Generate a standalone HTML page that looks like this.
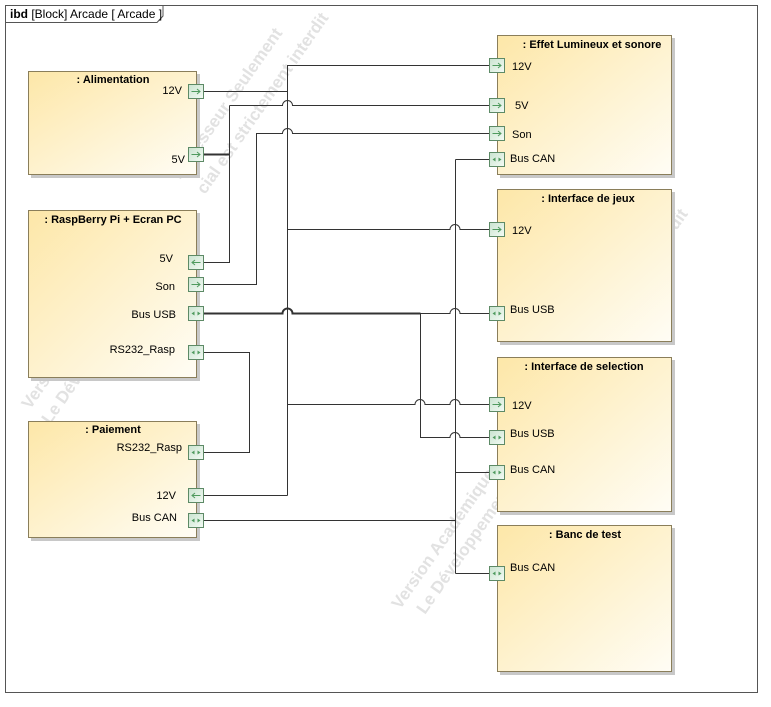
<!DOCTYPE html>
<html><head><meta charset="utf-8"><style>
html,body{margin:0;padding:0;background:#fff;}
svg{display:block;font-family:"Liberation Sans",sans-serif;}
</style></head><body>
<svg width="771" height="707" viewBox="0 0 771 707" xmlns="http://www.w3.org/2000/svg">
<defs>
<linearGradient id="g" x1="0" y1="0" x2="1" y2="1">
<stop offset="0" stop-color="#fde7a8"/><stop offset="1" stop-color="#fffdf5"/>
</linearGradient>
<linearGradient id="pg" x1="0" y1="0" x2="1" y2="1">
<stop offset="0" stop-color="#c9e3cf"/><stop offset="1" stop-color="#f4fbf5"/>
</linearGradient>
<g id="ar"><path d="M-4.5 0 H4 M1 -2.5 L4 0 L1 2.5" fill="none" stroke="#4f9a5e" stroke-width="1"/></g>
<g id="al"><path d="M4.5 0 H-4 M-1 -2.5 L-4 0 L-1 2.5" fill="none" stroke="#4f9a5e" stroke-width="1"/></g>
<g id="ab"><path d="M-4.5 0 L-1.5 -2 V2 Z M4.5 0 L1.5 -2 V2 Z" fill="#4f9a5e" stroke="none"/></g>
</defs>
<rect width="771" height="707" fill="#fff"/>
<g fill="#e2e2e2" font-size="17" font-weight="bold">
<text transform="translate(180,180) rotate(-55)">Professeur Seulement</text>
<text transform="translate(205,195) rotate(-55)">cial est strictement interdit</text>
<text transform="translate(30,410) rotate(-55)">Version Académique</text>
<text transform="translate(50,425) rotate(-55)">Le Développement commercial</text>
<text transform="translate(400,610) rotate(-55)">Version Académique</text>
<text transform="translate(425,615) rotate(-55)">Le Développement commercial est</text>
<text transform="translate(600,340) rotate(-55)">strictement interdit</text>
</g>
<rect x="5.5" y="5.5" width="752" height="687" fill="none" stroke="#555"/>
<path d="M5.5 22.5 H157 L163 16 V5.5" fill="none" stroke="#555"/>
<text x="10" y="18" font-size="12"><tspan font-weight="bold">ibd</tspan> [Block] Arcade [ Arcade ]</text>

<g stroke="#8a7e5a" stroke-width="1">
<rect x="31" y="74" width="169" height="104" fill="#c8c8c8" stroke="none"/>
<rect x="28.5" y="71.5" width="168" height="103" fill="url(#g)"/>
<rect x="31" y="213" width="169" height="168" fill="#c8c8c8" stroke="none"/>
<rect x="28.5" y="210.5" width="168" height="167" fill="url(#g)"/>
<rect x="31" y="424" width="169" height="117" fill="#c8c8c8" stroke="none"/>
<rect x="28.5" y="421.5" width="168" height="116" fill="url(#g)"/>
<rect x="500" y="38" width="175" height="140" fill="#c8c8c8" stroke="none"/>
<rect x="497.5" y="35.5" width="174" height="139" fill="url(#g)"/>
<rect x="500" y="192" width="175" height="153" fill="#c8c8c8" stroke="none"/>
<rect x="497.5" y="189.5" width="174" height="152" fill="url(#g)"/>
<rect x="500" y="360" width="175" height="155" fill="#c8c8c8" stroke="none"/>
<rect x="497.5" y="357.5" width="174" height="154" fill="url(#g)"/>
<rect x="500" y="528" width="175" height="147" fill="#c8c8c8" stroke="none"/>
<rect x="497.5" y="525.5" width="174" height="146" fill="url(#g)"/>
</g>
<g font-size="11" font-weight="bold" text-anchor="middle">
<text x="113" y="83">: Alimentation</text>
<text x="113" y="223">: RaspBerry Pi + Ecran PC</text>
<text x="113" y="433">: Paiement</text>
<text x="592" y="48">: Effet Lumineux et sonore</text>
<text x="588" y="202">: Interface de jeux</text>
<text x="584" y="370">: Interface de selection</text>
<text x="585" y="538">: Banc de test</text>
</g>

<g fill="none" stroke="#333" stroke-width="1">
<path d="M287.5 65 V495.5"/>
<path d="M204 91.5 H287.5"/>
<path d="M287.5 65.5 H489"/>
<path d="M287.5 229.5 H450 a5 5 0 0 1 10 0 H489"/>
<path d="M287.5 404.5 H415 a5 5 0 0 1 10 0 H450 a5 5 0 0 1 10 0 H489"/>
<path d="M204 495.5 H287.5"/>
<path d="M204 154.5 H229.5" stroke-width="2"/>
<path d="M229.5 105.5 V262.5 H204"/>
<path d="M229.5 105.5 H282.5 a5 5 0 0 1 10 0 H489"/>
<path d="M204 284.5 H256.5 V133.5 H282.5 a5 5 0 0 1 10 0 H489"/>
<path d="M455.5 159.5 V573.5"/>
<path d="M455.5 159.5 H489"/>
<path d="M455.5 472.5 H489"/>
<path d="M455.5 573.5 H489"/>
<path d="M204 520.5 H455.5"/>
<path d="M204 313.5 H282.5 a5 5 0 0 1 10 0 H420.5" stroke-width="2"/>
<path d="M420.5 313.5 H450 a5 5 0 0 1 10 0 H489"/>
<path d="M420.5 313.5 V437.5 H450 a5 5 0 0 1 10 0 H489"/>
<path d="M204 352.5 H249.5 V452.5 H204"/>
</g>

<g stroke="#5d8a66" fill="url(#pg)">
<rect x="188.5" y="84.5" width="15" height="14"/>
<rect x="188.5" y="147.5" width="15" height="14"/>
<rect x="188.5" y="255.5" width="15" height="14"/>
<rect x="188.5" y="277.5" width="15" height="14"/>
<rect x="188.5" y="306.5" width="15" height="14"/>
<rect x="188.5" y="345.5" width="15" height="14"/>
<rect x="188.5" y="445.5" width="15" height="14"/>
<rect x="188.5" y="488.5" width="15" height="14"/>
<rect x="188.5" y="513.5" width="15" height="14"/>
<rect x="489.5" y="58.5" width="15" height="14"/>
<rect x="489.5" y="98.5" width="15" height="14"/>
<rect x="489.5" y="126.5" width="15" height="14"/>
<rect x="489.5" y="152.5" width="15" height="14"/>
<rect x="489.5" y="222.5" width="15" height="14"/>
<rect x="489.5" y="306.5" width="15" height="14"/>
<rect x="489.5" y="397.5" width="15" height="14"/>
<rect x="489.5" y="430.5" width="15" height="14"/>
<rect x="489.5" y="465.5" width="15" height="14"/>
<rect x="489.5" y="566.5" width="15" height="14"/>
</g>
<use href="#ar" x="196" y="91.5"/><use href="#ar" x="196" y="154.5"/>
<use href="#al" x="196" y="262.5"/><use href="#ar" x="196" y="284.5"/>
<use href="#ab" x="196" y="313.5"/><use href="#ab" x="196" y="352.5"/>
<use href="#ab" x="196" y="452.5"/><use href="#al" x="196" y="495.5"/>
<use href="#ab" x="196" y="520.5"/>
<use href="#ar" x="497" y="65.5"/><use href="#ar" x="497" y="105.5"/>
<use href="#ar" x="497" y="133.5"/><use href="#ab" x="497" y="159.5"/>
<use href="#ar" x="497" y="229.5"/><use href="#ab" x="497" y="313.5"/>
<use href="#ar" x="497" y="404.5"/><use href="#ab" x="497" y="437.5"/>
<use href="#ab" x="497" y="472.5"/><use href="#ab" x="497" y="573.5"/>
<g font-size="11" fill="#000">
<g text-anchor="end">
<text x="182" y="94">12V</text><text x="185" y="163">5V</text>
<text x="173" y="262">5V</text><text x="175" y="290">Son</text>
<text x="176" y="318">Bus USB</text><text x="175" y="353">RS232_Rasp</text>
<text x="182" y="451">RS232_Rasp</text><text x="176" y="499">12V</text>
<text x="177" y="521">Bus CAN</text>
</g>
<text x="512" y="70">12V</text><text x="515" y="109">5V</text><text x="512" y="138">Son</text>
<text x="510" y="162">Bus CAN</text><text x="512" y="234">12V</text>
<text x="510" y="313">Bus USB</text><text x="512" y="409">12V</text>
<text x="510" y="437">Bus USB</text><text x="510" y="473">Bus CAN</text>
<text x="510" y="571">Bus CAN</text>
</g>
</svg>
</body></html>
